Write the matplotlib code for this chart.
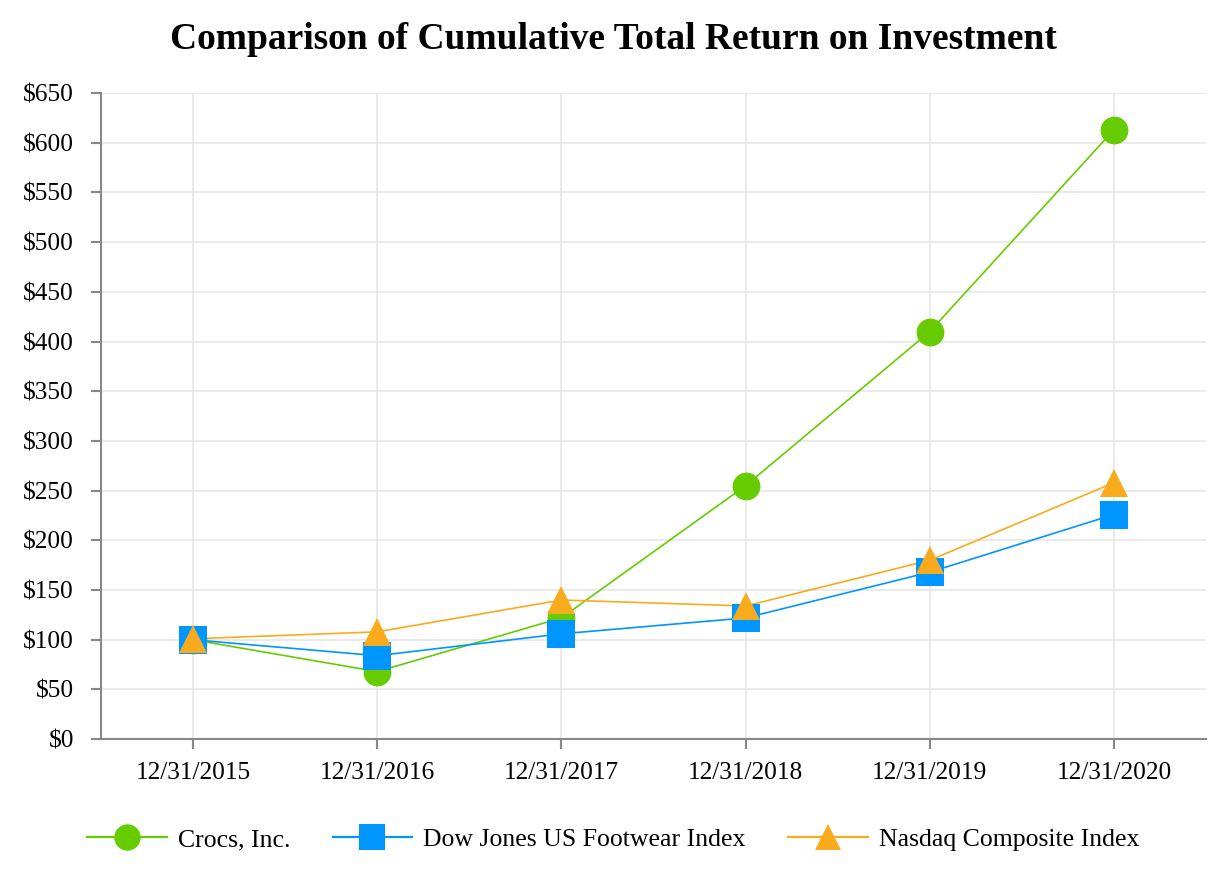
import matplotlib
matplotlib.use("Agg")
import matplotlib.pyplot as plt
from matplotlib.ticker import MultipleLocator, FuncFormatter

plt.rcParams['font.family'] = ['Liberation Serif', 'DejaVu Serif']

categories = ["12/31/2015", "12/31/2016", "12/31/2017", "12/31/2018", "12/31/2019", "12/31/2020"]
crocs = [100, 68, 122, 255, 410, 613]
dow_jones = [100, 84, 106, 122, 168, 226]
nasdaq = [101, 108, 140, 134, 180, 258]

series = [
    ("Crocs, Inc.", crocs, "#66cc00", "o"),
    ("Dow Jones US Footwear Index", dow_jones, "#0096ff", "s"),
    ("Nasdaq Composite Index", nasdaq, "#f9ab1e", "^"),
]

fig = plt.figure(figsize=(12.26, 8.8), dpi=100)
ax = fig.add_axes([0.0824, 0.160, 0.9013, 0.7343])

x = list(range(len(categories)))
for name, vals, col, mk in series:
    ax.plot(x, vals, color=col, lw=1.2, zorder=2)
handles = []
for i, (name, vals, col, mk) in enumerate(series):
    ax.plot(x, vals, linestyle='none', marker=mk, markersize=20,
            color=col, markeredgewidth=0, zorder=3 + i)
    h, = ax.plot([], [], color=col, lw=1.6, marker=mk, markersize=19,
                 markeredgewidth=0, label=name)
    handles.append(h)

ax.set_xlim(-0.5, 5.5)
ax.set_ylim(0, 650)
ax.set_xticks(x)
ax.set_xticklabels(categories)
ax.yaxis.set_major_locator(MultipleLocator(50))
ax.yaxis.set_major_formatter(FuncFormatter(lambda v, p: f"${int(v)}"))

ax.grid(True, color="#e6e6e6", lw=1.2, zorder=0)
ax.set_axisbelow(True)
for s in ["top", "right"]:
    ax.spines[s].set_visible(False)
for s in ["left", "bottom"]:
    ax.spines[s].set_color("#888888")
    ax.spines[s].set_linewidth(1.5)
ax.tick_params(axis='both', colors="#888888", labelcolor="black", labelsize=18.3,
               length=7.5, width=1.5)
ax.tick_params(axis='y', pad=12)
ax.tick_params(axis='x', pad=9)

fig.text(0.5, 1 - 49 / 880, "Comparison of Cumulative Total Return on Investment",
         fontsize=27, fontweight='bold', ha='center', va='baseline')

fig.legend(handles=handles, loc='center', bbox_to_anchor=(0.5, 0.046), ncol=3,
           frameon=False, fontsize=18.5, handlelength=3.1, columnspacing=1.65,
           handletextpad=0.43)

fig.savefig("out.png", dpi=100)
